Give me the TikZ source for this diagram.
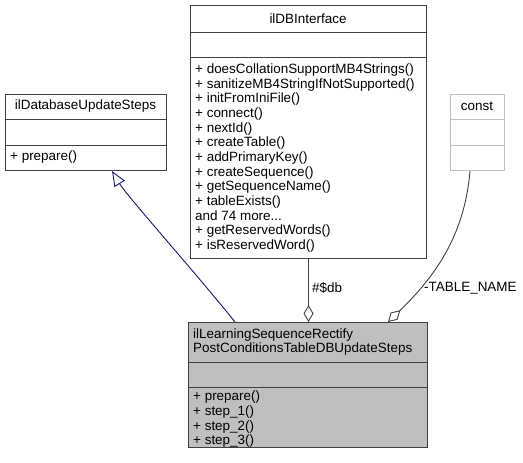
\documentclass[tikz,border=0pt]{standalone}
\usepackage{fontspec}
\setmainfont{Liberation Sans}
\usetikzlibrary{arrows.meta,calc}
\definecolor{boxborder}{HTML}{404040}
\definecolor{mainfill}{HTML}{BFBFBF}
\definecolor{constborder}{HTML}{BFBFBF}
\definecolor{inheritcol}{HTML}{191970}
\definecolor{assoccol}{HTML}{404040}
\begin{document}
\begin{tikzpicture}[x=1pt,y=-1pt,
  font=\fontsize{13.45}{14.67}\selectfont,
  classbox/.style={draw=boxborder, line width=1pt, fill=white, inner sep=0pt, anchor=north west},
  divider/.style={draw=boxborder, line width=1pt},
  txt/.style={anchor=west, inner sep=0pt, align=left},
  ctitle/.style={inner sep=0pt},
  inherit/.style={draw=inheritcol, line width=0.9pt, -{Triangle[open,length=15pt,width=12pt,line width=0.9pt]}},
  assoc/.style={draw=assoccol, line width=0.9pt, -{Diamond[open,length=17pt,width=10pt,line width=0.9pt]}},
  elabel/.style={anchor=west, inner sep=0pt}]
\useasboundingbox (0,0) rectangle (523,463);
\fill[white] (0,0) rectangle (523,463);

% ilDBInterface
\node[classbox, minimum width=236pt, minimum height=253pt] (dbi) at (190,5) {};
\draw[divider] (190,32) -- (426,32);
\draw[divider] (190,57) -- (426,57);
\node[ctitle] (dbititle) at (308,18.5) {ilDBInterface};
\node[txt] (dbimeth) at (195,158) {+ doesCollationSupportMB4Strings()\\+ sanitizeMB4StringIfNotSupported()\\+ initFromIniFile()\\+ connect()\\+ nextId()\\+ createTable()\\+ addPrimaryKey()\\+ createSequence()\\+ getSequenceName()\\+ tableExists()\\and 74 more...\\+ getReservedWords()\\+ isReservedWord()};

% ilDatabaseUpdateSteps
\node[classbox, minimum width=161pt, minimum height=76pt] (base) at (5,94) {};
\draw[divider] (5,119) -- (166,119);
\draw[divider] (5,145) -- (166,145);
\node[ctitle] (basetitle) at (85.5,106.5) {ilDatabaseUpdateSteps};
\node[txt] (basemeth) at (10,157.5) {+ prepare()};

% const
\node[classbox, draw=constborder, minimum width=54pt, minimum height=76pt] (const) at (450,94) {};
\draw[divider, draw=constborder] (450,119) -- (504,119);
\draw[divider, draw=constborder] (450,145) -- (504,145);
\node[ctitle] (consttitle) at (477,106.5) {const};

% main class
\node[classbox, fill=mainfill, minimum width=239pt, minimum height=125pt] (main) at (188,322) {};
\draw[divider] (188,362) -- (427,362);
\draw[divider] (188,387) -- (427,387);
\node[txt] (maintitle) at (193,342) {ilLearningSequenceRectify\\PostConditionsTableDBUpdateSteps};
\node[txt] (mainmeth) at (193,419.5) {+ prepare()\\+ step\_1()\\+ step\_2()\\+ step\_3()};

% connectors
\coordinate (inhS) at ($(main.north west)+(47,0)$);
\coordinate (inhE) at ($(base.south west)+(107,0)$);
\coordinate (tnS) at ($(const.south west)+(20,0)$);
\coordinate (tnE) at ($(main.north west)+(200,0)$);
\draw[inherit] (inhS) .. controls (200,278) and (127,196) .. (inhE);
\draw[assoc] (dbi.south) -- (dbi.south |- main.north);
\draw[assoc] (tnS) .. controls (465,230) and (440,272) .. (tnE);
\node[elabel] (dblabel) at (312,288) {\#\$db};
\node[elabel] (tnlabel) at (424,288) {-TABLE\_NAME};
\end{tikzpicture}
\end{document}
